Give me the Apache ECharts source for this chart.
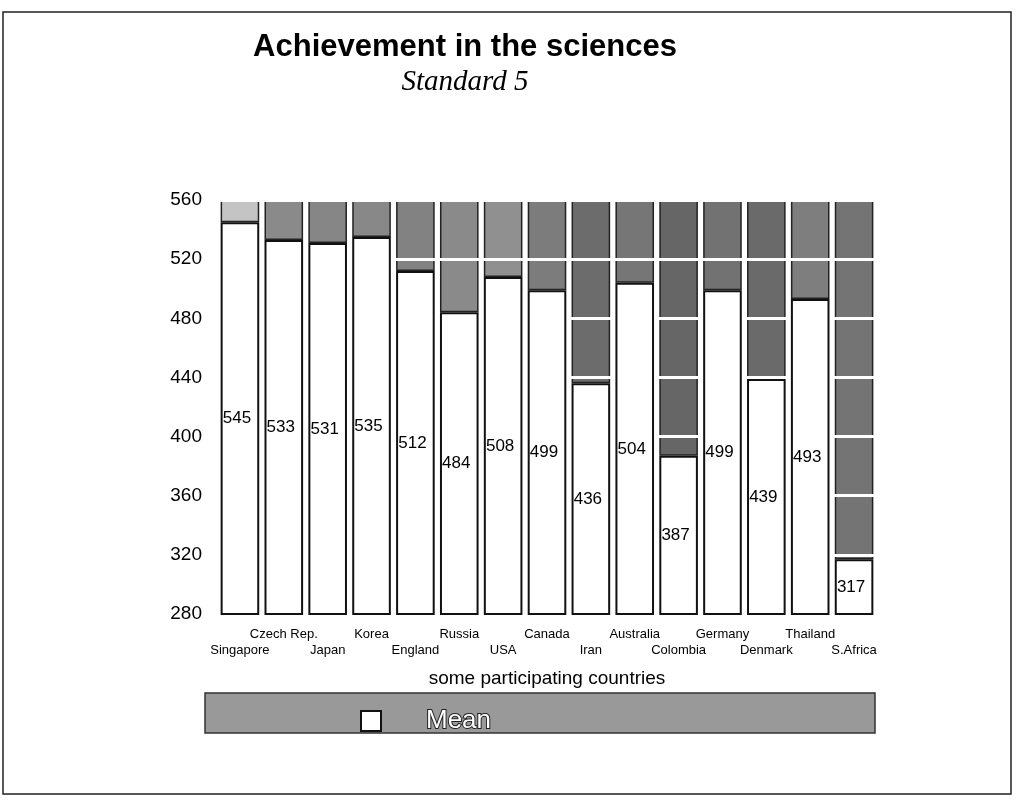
<!DOCTYPE html>
<html>
<head>
<meta charset="utf-8">
<script src="https://cdn.jsdelivr.net/npm/echarts@6/dist/echarts.min.js"></script>
<style>html,body{margin:0;padding:0;background:#fff}#chart{width:1023px;height:807px}</style>
</head>
<body>
<div id="chart"></div>
<script>
var countries = ['Singapore', 'Czech Rep.', 'Japan', 'Korea', 'England', 'Russia', 'USA', 'Canada',
    'Iran', 'Australia', 'Colombia', 'Germany', 'Denmark', 'Thailand', 'S.Africa'];
var scores = [545, 533, 531, 535, 512, 484, 508, 499, 436, 504, 387, 499, 439, 493, 317];
var yTicks = [280, 320, 360, 400, 440, 480, 520, 560];

var topValue = yTicks[yTicks.length - 1];
// grey shade of each column above the bar
var shades = ['#c4c4c4', '#8a8a8a', '#868686', '#888888', '#828282', '#8a8a8a', '#909090', '#7c7c7c',
    '#6c6c6c', '#767676', '#666666', '#727272', '#6a6a6a', '#7e7e7e', '#747474'];

var myChart = echarts.init(document.getElementById('chart'));
var narrow = "'Liberation Sans Narrow', 'Arial Narrow', 'Liberation Sans', sans-serif";

option = {
    backgroundColor: '#fff',
    animation: false,
    title: {
        text: 'Achievement in the sciences',
        subtext: 'Standard 5',
        left: 460,
        top: 27,
        textAlign: 'center',
        itemGap: 5,
        textStyle: {fontFamily: 'Liberation Sans, Arial', fontWeight: 'bold', fontSize: 31, color: '#000'},
        subtextStyle: {fontFamily: 'Liberation Serif, Times New Roman, serif', fontStyle: 'italic', fontSize: 29, color: '#000'}
    },
    graphic: [
        {type: 'rect', z: -10, shape: {x: 3, y: 12, width: 1008, height: 782},
            style: {fill: 'none', stroke: '#222', lineWidth: 1.5}},
        {type: 'rect', z: -10, shape: {x: 205, y: 693, width: 670, height: 40},
            style: {fill: '#999999', stroke: '#333', lineWidth: 1.5}}
    ],
    legend: {
        data: ['Mean'],
        left: 355,
        top: 702,
        z: 10,
        icon: 'rect',
        itemWidth: 20,
        itemHeight: 20,
        textStyle: {fontFamily: narrow, fontSize: 26, color: '#fff', textBorderColor: '#222', textBorderWidth: 2, padding: [0, 0, 0, 40]}
    },
    grid: {left: 218, right: 147, top: 200, bottom: 193},
    xAxis: {
        type: 'category',
        data: countries,
        name: 'some participating countries',
        nameLocation: 'middle',
        nameGap: 55,
        nameTextStyle: {fontFamily: 'Liberation Sans, Arial', fontSize: 19, color: '#000'},
        axisLine: {show: false},
        axisTick: {show: false},
        axisLabel: {
            interval: 0,
            margin: 12,
            fontFamily: narrow,
            fontSize: 13,
            color: '#000',
            lineHeight: 16,
            formatter: function (v, i) { return i % 2 === 0 ? '\n' + v : v; }
        }
    },
    yAxis: {
        type: 'value',
        min: yTicks[0],
        max: topValue,
        interval: 40,
        z: 5,
        axisLine: {show: false},
        axisTick: {show: false},
        axisLabel: {fontFamily: 'Liberation Sans, Arial', fontSize: 19, color: '#000', margin: 16},
        splitLine: {show: true, lineStyle: {color: '#fff', width: 3}}
    },
    series: [
        {
            name: 'Mean',
            type: 'bar',
            stack: 'col',
            z: 6,
            barCategoryGap: '12%',
            data: scores,
            itemStyle: {color: '#fff', borderColor: '#111', borderWidth: 2},
            label: {
                show: true,
                position: 'inside',
                offset: [-3, 0],
                fontFamily: 'Liberation Sans, Arial',
                fontSize: 17,
                color: '#000'
            }
        },
        {
            name: 'rest',
            type: 'bar',
            stack: 'col',
            data: scores.map(function (v, i) {
                return {value: topValue - v, itemStyle: {color: shades[i]}};
            }),
            itemStyle: {borderColor: '#222', borderWidth: 1.5},
            silent: true
        }
    ]
};
myChart.setOption(option);
</script>
</body>
</html>
